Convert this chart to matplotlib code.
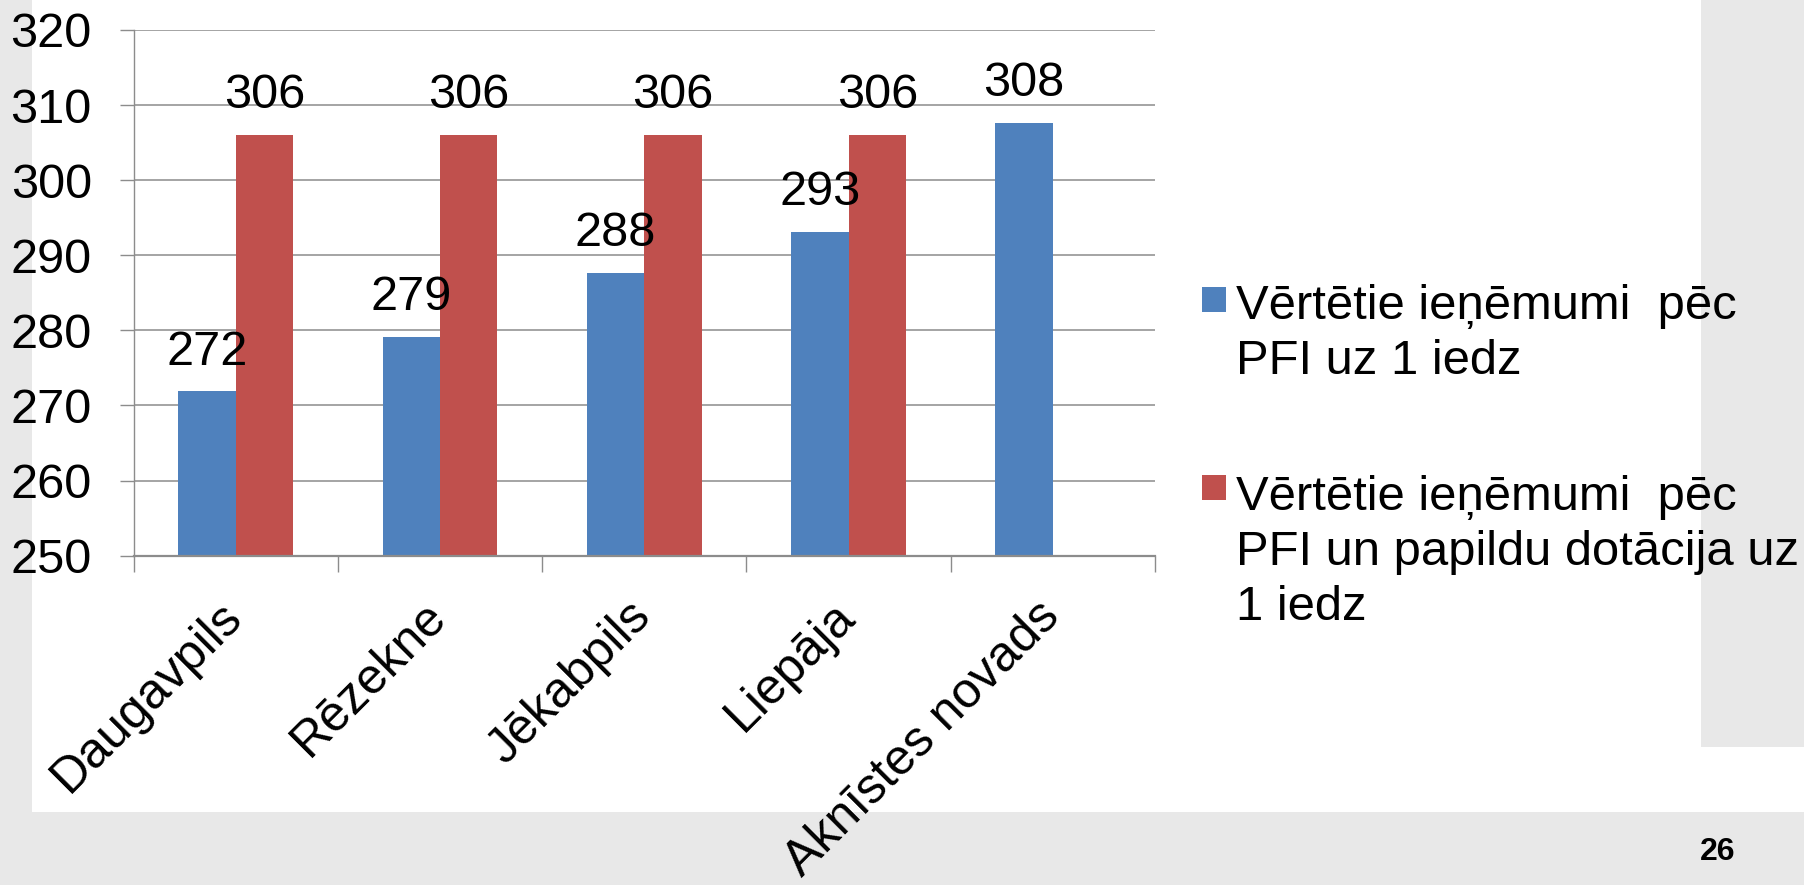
import matplotlib
matplotlib.use("Agg")
import matplotlib.pyplot as plt
from matplotlib.patches import Rectangle
from matplotlib.transforms import ScaledTranslation
import numpy as np

plt.rcParams['font.family'] = ['Liberation Sans', 'DejaVu Sans']

categories = ["Daugavpils", "Rēzekne", "Jēkabpils", "Liepāja", "Aknīstes novads"]
series1_name = "Vērtētie ieņēmumi  pēc\nPFI uz 1 iedz"
series2_name = "Vērtētie ieņēmumi  pēc\nPFI un papildu dotācija uz\n1 iedz"
series1 = [271.9, 279.1, 287.7, 293.1, 307.6]
series2 = [306.0, 306.0, 306.0, 306.0, np.nan]
yticks = [250, 260, 270, 280, 290, 300, 310, 320]

BLUE = "#4F81BD"
RED = "#C0504D"
GRID = "#8C8C8C"
BG = "#E8E8E8"

W, H = 1804, 885
fig = plt.figure(figsize=(W / 100, H / 100), dpi=100, facecolor=BG)

def fx(px):
    return px / W

def fy(py):
    return 1 - py / H

# white slide regions
fig.patches.append(Rectangle((fx(32), fy(811.7)), fx(1701 - 32), 811.7 / H,
                             transform=fig.transFigure, facecolor="white",
                             edgecolor="none", zorder=-5))
fig.patches.append(Rectangle((fx(1701), fy(811.7)), fx(W - 1701), (811.7 - 746.7) / H,
                             transform=fig.transFigure, facecolor="white",
                             edgecolor="none", zorder=-5))

ax_left, ax_right, ax_top, ax_bot = 133.5, 1155, 29.9, 555.7
ax = fig.add_axes([fx(ax_left), fy(ax_bot), fx(ax_right - ax_left), (ax_bot - ax_top) / H])
ax.set_facecolor("white")

x = np.arange(len(categories))
bw = 0.281
b1 = ax.bar(x - bw / 2, series1, width=bw, color=BLUE, label=series1_name, zorder=2)
b2 = ax.bar(x + bw / 2, series2, width=bw, color=RED, label=series2_name, zorder=2)

lab1 = [f"{v:.0f}" for v in series1]
lab2 = ["" if np.isnan(v) else f"{v:.0f}" for v in series2]
ax.bar_label(b1, labels=lab1, padding=12, fontsize=35)
ax.bar_label(b2, labels=lab2, padding=12, fontsize=35)

ax.set_ylim(250, 320)
ax.set_yticks(yticks)
ax.set_xlim(-0.5, len(categories) - 0.5)
ax.set_axisbelow(True)
ax.yaxis.grid(True, color=GRID, linewidth=1.1)
ax.xaxis.grid(False)

for s in ["top", "right"]:
    ax.spines[s].set_visible(False)
ax.spines["left"].set_color(GRID)
ax.spines["left"].set_linewidth(1.0)
ax.spines["bottom"].set_color(GRID)
ax.spines["bottom"].set_linewidth(1.6)

ax.tick_params(axis="y", length=10, width=1.0, color=GRID, labelsize=35, pad=20, direction="out")
ax.set_xticks(x)
ax.set_xticks(np.arange(-0.5, len(categories)), minor=True)
ax.tick_params(axis="x", which="major", length=0, pad=27, labelsize=36)
ax.tick_params(axis="x", which="minor", length=11.5, width=1.0, color=GRID, direction="out")
ax.set_xticklabels(categories, rotation=45, ha="right", va="top", rotation_mode="anchor")
shift = ScaledTranslation(-17 / 100, 0, fig.dpi_scale_trans)
for lbl in ax.get_xticklabels():
    lbl.set_transform(lbl.get_transform() + shift)

# legend (drawn manually so each marker aligns with its first text line)
# (label, colour, marker top px, last-line baseline px)
leg_items = [(series1_name, BLUE, 287, 374), (series2_name, RED, 475, 620)]
for name, col, ytop, last_base in leg_items:
    fig.patches.append(Rectangle((fx(1202), fy(ytop + 25)), fx(24), 25 / H,
                                 transform=fig.transFigure, facecolor=col,
                                 edgecolor="none", zorder=3))
    fig.text(fx(1236), fy(last_base), name, fontsize=35.3, va="baseline", ha="left",
             linespacing=1.29)

fig.text(fx(1718), fy(852), "26", fontsize=23, fontweight="bold", ha="center", va="center")

fig.savefig("out.png", dpi=100, facecolor=BG)
